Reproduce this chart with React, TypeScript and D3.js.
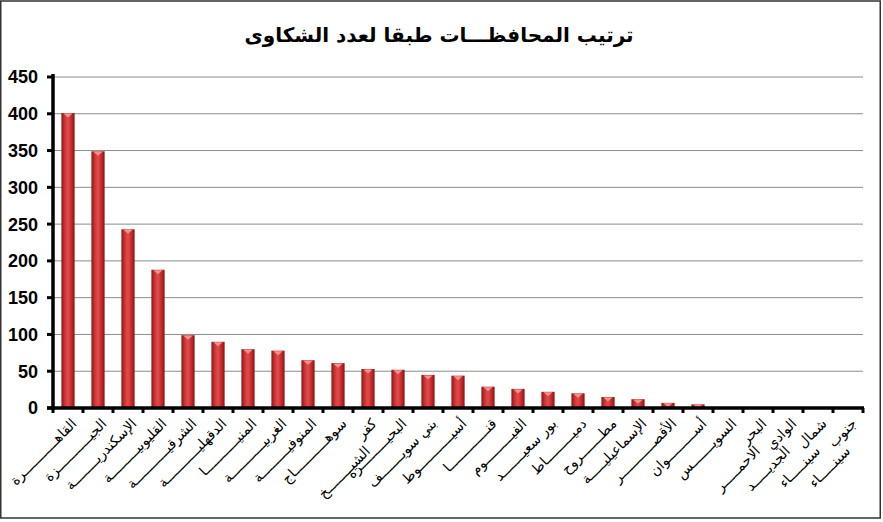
import React from "react";
import * as d3 from "d3";

const title = "ترتيب المحافظـــات طبقا لعدد الشكاوى";

const governorates: string[][] = [
  ["القاهـــــــــــرة"],
  ["الجيـــــــــــزة"],
  ["الإسكندريــــــــة"],
  ["القليوبيـــــــــة"],
  ["الشرقيـــــــــــة"],
  ["الدقهليـــــــــــة"],
  ["المنيـــــــــــا"],
  ["الغربيـــــــــــة"],
  ["المنوفيـــــــــة"],
  ["سوهـــــــــــاج"],
  ["كفر", "الشيــــــــخ"],
  ["البحيـــــــــرة"],
  ["بني سويـــــــف"],
  ["أسيـــــــــــوط"],
  ["قنـــــــــــــا"],
  ["الفيـــــــــوم"],
  ["بور سعيـــــــد"],
  ["دميـــــــــاط"],
  ["مطـــــــروح"],
  ["الإسماعيليـــــة"],
  ["الأقصـــــــــــر"],
  ["أســـــــــوان"],
  ["السويـــــــس"],
  ["البحر", "الاحمـــــر"],
  ["الوادي", "الجديـــــد"],
  ["شمال", "سينـــــاء"],
  ["جنوب", "سينـــــاء"],
];

const complaints: number[] = [
  401, 349, 243, 188, 99, 90, 80, 78, 65, 61, 53, 52, 45, 44, 29, 26, 22, 20,
  15, 12, 7, 5, 0, 0, 0, 0, 0,
];

const yTicks: number[] = [0, 50, 100, 150, 200, 250, 300, 350, 400, 450];

export default function App() {
  const W = 883;
  const H = 522;
  const left = 53;
  const right = 863;
  const top = 77;
  const bottom = 408;

  const idx = governorates.map((_, i) => String(i));
  const x = d3.scaleBand<string>().domain(idx).range([left, right]).paddingInner(0.56).paddingOuter(0.28);
  const xBoundary = d3.scaleLinear().domain([0, governorates.length]).range([left, right]);
  const y = d3.scaleLinear().domain([0, 450]).range([bottom, top]);

  const arabicFont = "'DejaVu Sans', 'Liberation Sans', sans-serif";
  const numFont = "'Liberation Sans', Arial, sans-serif";

  return (
    <svg
      width={W}
      height={H}
      style={{ position: "fixed", left: 0, top: 0, background: "#fff" }}
    >
      <defs>
        <linearGradient id="barGrad" x1="0" x2="1" y1="0" y2="0">
          <stop offset="0" stopColor="#8e1414" />
          <stop offset="0.3" stopColor="#d23a3a" />
          <stop offset="0.5" stopColor="#e24c4c" />
          <stop offset="0.75" stopColor="#c42c2c" />
          <stop offset="1" stopColor="#8a1212" />
        </linearGradient>
      </defs>
      <rect x={0.75} y={1} width={879.5} height={517} fill="#fff" stroke="#333" strokeWidth={1.5} />
      <text
        x={439}
        y={42}
        textAnchor="middle"
        fontFamily={arabicFont}
        fontWeight="bold"
        fontSize={20}
        fill="#000"
      >
        {title}
      </text>

      {/* gridlines */}
      {yTicks.filter((t) => t > 0).map((t) => (
        <line key={"g" + t} x1={left} x2={right} y1={y(t)} y2={y(t)} stroke="#8c8c8c" strokeWidth={1} />
      ))}

      {/* bars */}
      {complaints.map((v, i) => {
        const bx = x(String(i))!;
        const bw = x.bandwidth();
        if (v <= 0) return null;
        const yt = y(v);
        const h = bottom - yt;
        const cap = Math.min(3, h / 2);
        return (
          <g key={"b" + i}>
            <rect x={bx} y={yt} width={bw} height={h} fill="url(#barGrad)" />
            <path
              d={`M${bx + 2},${yt + 0.5} L${bx + bw - 2},${yt + 0.5} L${bx + bw / 2},${yt + cap + 1.5} Z`}
              fill="#f29a9a"
              opacity={0.9}
            />
          </g>
        );
      })}

      {/* y axis */}
      <line x1={left} x2={left} y1={top - 3} y2={bottom + 2} stroke="#000" strokeWidth={3.5} />
      {yTicks.map((t) => (
        <g key={"y" + t}>
          <line x1={left - 6} x2={left} y1={y(t)} y2={y(t)} stroke="#000" strokeWidth={3} />
          <text
            x={38}
            y={y(t)}
            dy="0.36em"
            textAnchor="end"
            fontFamily={numFont}
            fontWeight="bold"
            fontSize={18}
            fill="#000"
          >
            {t}
          </text>
        </g>
      ))}

      {/* x axis */}
      <line x1={left - 6} x2={right + 1} y1={bottom} y2={bottom} stroke="#000" strokeWidth={3.5} />
      {d3.range(governorates.length + 1).map((k) => (
        <line
          key={"xt" + k}
          x1={xBoundary(k)}
          x2={xBoundary(k)}
          y1={bottom}
          y2={bottom + 5}
          stroke="#000"
          strokeWidth={3}
        />
      ))}

      {/* x labels */}
      {governorates.map((lines, i) => {
        const cx = x(String(i))! + x.bandwidth() / 2 + 6;
        const cy = 421;
        return (
          <g key={"l" + i} transform={`translate(${cx},${cy}) rotate(-45)`}>
            {lines.map((ln, j) => (
              <text
                key={j}
                x={-j * 24}
                y={j * 15}
                dy="0.35em"
                textAnchor="end"
                fontFamily={arabicFont}
                fontSize={14}
                fill="#000"
              >
                {ln}
              </text>
            ))}
          </g>
        );
      })}
    </svg>
  );
}
